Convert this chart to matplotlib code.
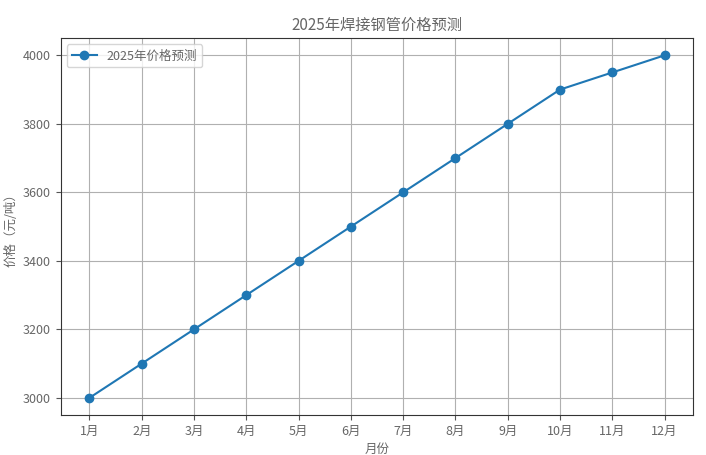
import matplotlib.pyplot as plt

months = ['1月', '2月', '3月', '4月', '5月', '6月', '7月', '8月', '9月', '10月', '11月', '12月']
prices = [3000, 3100, 3200, 3300, 3400, 3500, 3600, 3700, 3800, 3900, 3950, 4000]

plt.rcParams['font.family'] = ['Noto Sans CJK SC', 'DejaVu Sans']
plt.rcParams['font.weight'] = 'light'
plt.rcParams['text.color'] = '#666666'
plt.rcParams['axes.labelcolor'] = '#666666'
plt.rcParams['xtick.color'] = '#555555'
plt.rcParams['ytick.color'] = '#555555'
plt.rcParams['xtick.labelcolor'] = '#666666'
plt.rcParams['ytick.labelcolor'] = '#666666'

fig, ax = plt.subplots(figsize=(7.06, 4.55), dpi=100)
ax.plot(months, prices, marker='o', color='#1f77b4', label='2025年价格预测')
ax.set_title('2025年焊接钢管价格预测', fontsize=11)
ax.set_xlabel('月份', fontsize=9)
ax.set_ylabel('价格（元/吨）', fontsize=9)
ax.tick_params(labelsize=9)
ax.grid(True, color='#b0b0b0', linewidth=0.8)
ax.legend(loc='upper left', fontsize=9)
for s in ax.spines.values():
    s.set_color('#333333')
plt.subplots_adjust(left=0.086, right=0.982, top=0.916, bottom=0.088)
plt.savefig('out.png')
